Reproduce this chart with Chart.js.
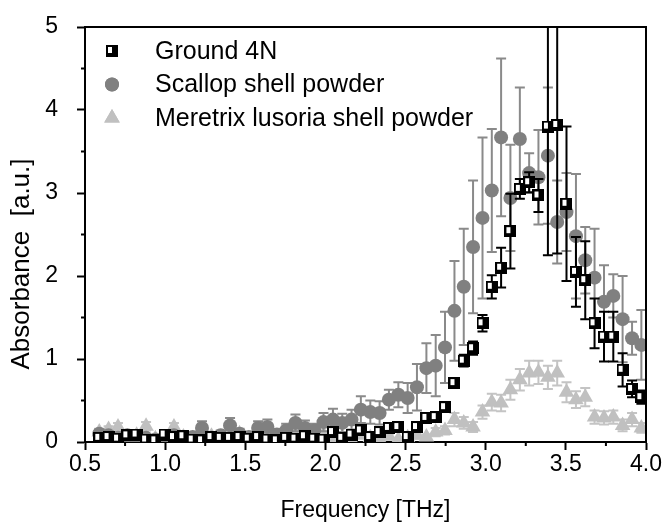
<!DOCTYPE html>
<html>
<head>
<meta charset="utf-8">
<script src="https://cdn.jsdelivr.net/npm/chart.js@4.4.1/dist/chart.umd.min.js"></script>
<style>
html, body { margin: 0; padding: 0; background: #fff; }
#wrap { width: 666px; height: 524px; }
</style>
</head>
<body>
<div id="wrap"><canvas id="theGraph" width="666" height="524"></canvas></div>
<script>
// frequency [THz]
var freq = [0.589, 0.647, 0.706, 0.764, 0.822, 0.881, 0.939, 0.997, 1.055, 1.114,
            1.172, 1.230, 1.289, 1.347, 1.405, 1.464, 1.522, 1.580, 1.638, 1.697,
            1.755, 1.813, 1.872, 1.930, 1.988, 2.047, 2.105, 2.163, 2.221, 2.280,
            2.338, 2.396, 2.455, 2.513, 2.571, 2.630, 2.688, 2.746, 2.805, 2.863,
            2.921, 2.980, 3.038, 3.096, 3.154, 3.213, 3.271, 3.329, 3.388, 3.446,
            3.504, 3.563, 3.621, 3.679, 3.738, 3.796, 3.854, 3.913, 3.971];

var ground4N = [0.05, 0.06, 0.04, 0.08, 0.09, 0.03, 0.02, 0.09, 0.06, 0.07,
                0.03, 0.02, 0.06, 0.05, 0.05, 0.06, 0.04, 0.06, 0.03, 0.02,
                0.05, 0.04, 0.07, 0.04, 0.03, 0.12, 0.05, 0.09, 0.14, 0.06,
                0.12, 0.17, 0.18, 0.06, 0.18, 0.29, 0.30, 0.42, 0.71, 0.98,
                1.13, 1.43, 1.87, 2.10, 2.54, 3.05, 3.13, 2.97, 3.80, 3.82,
                2.87, 2.05, 1.95, 1.43, 1.27, 1.27, 0.87, 0.64, 0.54];
var ground4NErr = [0.03, 0.03, 0.03, 0.04, 0.03, 0.03, 0.02, 0.04, 0.03, 0.03,
                   0.02, 0.02, 0.03, 0.03, 0.03, 0.03, 0.02, 0.03, 0.02, 0.02,
                   0.03, 0.03, 0.03, 0.03, 0.02, 0.05, 0.03, 0.04, 0.05, 0.03,
                   0.04, 0.05, 0.04, 0.04, 0.05, 0.05, 0.06, 0.05, 0.06, 0.07,
                   0.08, 0.10, 0.14, 0.24, 0.45, 0.12, 0.12, 0.20, 1.55, 1.55,
                   0.93, 0.42, 0.47, 0.30, 0.30, 0.30, 0.20, 0.10, 0.08];

var scallop = [0.10, 0.08, 0.05, 0.08, 0.04, 0.05, 0.03, 0.06, 0.08, 0.04,
               0.06, 0.17, 0.05, 0.08, 0.20, 0.10, 0.06, 0.17, 0.18, 0.09,
               0.14, 0.23, 0.17, 0.14, 0.24, 0.27, 0.23, 0.27, 0.39, 0.36,
               0.35, 0.51, 0.57, 0.53, 0.66, 0.89, 0.92, 1.14, 1.58, 1.87,
               2.35, 2.70, 3.03, 3.67, 2.94, 3.65, 3.24, 3.19, 3.45, 2.65,
               2.77, 2.48, 2.19, 1.98, 1.69, 1.76, 1.48, 1.25, 1.17];
var scallopErr = [0.05, 0.05, 0.04, 0.05, 0.04, 0.04, 0.03, 0.05, 0.05, 0.04,
                  0.05, 0.08, 0.04, 0.06, 0.09, 0.06, 0.05, 0.08, 0.09, 0.06,
                  0.08, 0.10, 0.09, 0.08, 0.11, 0.13, 0.11, 0.12, 0.16, 0.14,
                  0.14, 0.12, 0.15, 0.18, 0.28, 0.30, 0.37, 0.43, 0.60, 0.70,
                  0.80, 0.97, 0.74, 0.95, 0.64, 0.62, 0.24, 0.57, 0.82, 0.50,
                  0.47, 0.75, 0.40, 0.59, 0.44, 0.26, 0.52, 0.20, 0.42];

var meretrix = [0.12, 0.15, 0.18, 0.06, 0.08, 0.19, 0.04, 0.05, 0.18, 0.06,
                0.04, 0.15, 0.07, 0.03, 0.05, 0.10, 0.04, 0.02, 0.09, 0.05,
                0.03, 0.11, 0.05, 0.04, 0.09, 0.03, 0.06, 0.02, 0.08, 0.05,
                0.03, 0.07, 0.03, 0.05, 0.08, 0.06, 0.12, 0.14, 0.27, 0.23,
                0.18, 0.36, 0.48, 0.47, 0.63, 0.75, 0.83, 0.84, 0.78, 0.83,
                0.60, 0.51, 0.54, 0.30, 0.29, 0.30, 0.20, 0.27, 0.17];
var meretrixErr = [0.04, 0.04, 0.05, 0.03, 0.03, 0.05, 0.02, 0.03, 0.05, 0.03,
                   0.02, 0.04, 0.03, 0.02, 0.03, 0.04, 0.02, 0.02, 0.03, 0.03,
                   0.02, 0.04, 0.03, 0.02, 0.03, 0.02, 0.03, 0.02, 0.03, 0.03,
                   0.02, 0.03, 0.02, 0.03, 0.04, 0.03, 0.05, 0.05, 0.08, 0.07,
                   0.06, 0.08, 0.10, 0.10, 0.12, 0.13, 0.15, 0.14, 0.14, 0.15,
                   0.12, 0.10, 0.11, 0.08, 0.08, 0.08, 0.07, 0.08, 0.06];

var seriesNames = ["Ground 4N", "Scallop shell powder", "Meretrix lusoria shell powder"];
var yTitle = "Absorbance  [a.u.]";
var xTitle = "Frequency [THz]";
var xMinorTicks = [0.75, 1.25, 1.75, 2.25, 2.75, 3.25, 3.75];
var yMinorTicks = [0.5, 1.5, 2.5, 3.5, 4.5];

var FONT = "'Liberation Sans', Arial, sans-serif";

// square marker: black with a small white window
function makeSquare() {
    var c = document.createElement('canvas');
    c.width = 12; c.height = 12;
    var g = c.getContext('2d');
    g.fillStyle = '#000';
    g.fillRect(0, 0, 12, 12);
    g.fillStyle = '#fff';
    g.fillRect(2, 2, 4, 6);
    return c;
}
var squareImg = makeSquare();

function toPoints(ys) {
    return ys.map(function (y, i) { return { x: freq[i], y: y }; });
}

var errorBars = {
    id: 'errorBars',
    beforeDatasetDraw: function (chart, args) {
        var ds = chart.data.datasets[args.index];
        if (!ds.err) return;
        var ctx = chart.ctx, area = chart.chartArea;
        var xs = chart.scales.x, ys = chart.scales.y;
        ctx.save();
        ctx.beginPath();
        ctx.rect(area.left, area.top, area.right - area.left, area.bottom - area.top);
        ctx.clip();
        ctx.strokeStyle = ds.errColor;
        ctx.lineWidth = 2;
        ds.data.forEach(function (p, i) {
            var px = xs.getPixelForValue(p.x);
            var top = ys.getPixelForValue(p.y + ds.err[i]);
            var bot = ys.getPixelForValue(p.y - ds.err[i]);
            ctx.beginPath();
            ctx.moveTo(px, top); ctx.lineTo(px, bot);
            ctx.moveTo(px - 5, top); ctx.lineTo(px + 5, top);
            ctx.moveTo(px - 5, bot); ctx.lineTo(px + 5, bot);
            ctx.stroke();
        });
        ctx.restore();
    }
};

var frameAndLegend = {
    id: 'frameAndLegend',
    afterDraw: function (chart) {
        var ctx = chart.ctx, area = chart.chartArea;
        var xs = chart.scales.x, ys = chart.scales.y;
        ctx.save();
        ctx.strokeStyle = '#000';
        ctx.lineWidth = 2;
        ctx.beginPath();
        ctx.moveTo(area.left, area.top); ctx.lineTo(area.right, area.top);
        ctx.lineTo(area.right, area.bottom);
        xMinorTicks.forEach(function (v) {
            var px = xs.getPixelForValue(v);
            ctx.moveTo(px, area.bottom); ctx.lineTo(px, area.bottom + 4);
        });
        yMinorTicks.forEach(function (v) {
            var py = ys.getPixelForValue(v);
            ctx.moveTo(area.left, py); ctx.lineTo(area.left - 4, py);
        });
        ctx.stroke();

        // y axis title, sits a little below the middle of the axis
        ctx.save();
        ctx.translate(22, 264);
        ctx.rotate(-Math.PI / 2);
        ctx.font = '26px ' + FONT;
        ctx.fillStyle = '#000';
        ctx.textAlign = 'center';
        ctx.textBaseline = 'middle';
        ctx.fillText(yTitle, 0, 0);
        ctx.restore();

        // legend
        ctx.font = '25px ' + FONT;
        ctx.textBaseline = 'middle';
        chart.data.datasets.forEach(function (ds, k) {
            var y = area.top + 24 + k * 33.5;
            ctx.fillStyle = ds.backgroundColor;
            Chart.helpers.drawPoint(ctx, {
                pointStyle: ds.pointStyle, radius: ds.pointRadius,
                rotation: 0, borderWidth: 0
            }, area.left + 27, y);
            if (ds.pointStyle !== squareImg) ctx.fill();
            ctx.fillStyle = '#000';
            ctx.fillText(seriesNames[k], area.left + 70, y + 1);
        });
        ctx.restore();
    }
};

var ctx = document.getElementById('theGraph').getContext('2d');
var theGraph = new Chart(ctx, {
    type: 'scatter',
    data: {
        datasets: [{
            label: seriesNames[0],
            data: toPoints(ground4N),
            err: ground4NErr,
            errColor: '#000',
            pointStyle: squareImg,
            pointRadius: 6,
            backgroundColor: '#000',
            borderWidth: 0
        }, {
            label: seriesNames[1],
            data: toPoints(scallop),
            err: scallopErr,
            errColor: '#8a8a8a',
            pointStyle: 'circle',
            pointRadius: 7,
            backgroundColor: '#808080',
            borderWidth: 0
        }, {
            label: seriesNames[2],
            data: toPoints(meretrix),
            err: meretrixErr,
            errColor: '#c4c4c4',
            pointStyle: 'triangle',
            pointRadius: 9,
            backgroundColor: '#c0c0c0',
            borderWidth: 0
        }]
    },
    options: {
        responsive: false,
        animation: false,
        devicePixelRatio: 1,
        layout: { padding: { top: 27, right: 20, left: 0, bottom: 0 } },
        plugins: {
            legend: { display: false },
            tooltip: { enabled: false }
        },
        scales: {
            x: {
                type: 'linear',
                min: 0.5,
                max: 4.0,
                afterFit: function (s) { s.height = 82; },
                ticks: {
                    stepSize: 0.5,
                    color: '#000',
                    font: { family: FONT, size: 23 },
                    padding: 1,
                    maxRotation: 0,
                    callback: function (v) { return v.toFixed(1); }
                },
                grid: {
                    drawOnChartArea: false,
                    drawTicks: true,
                    tickLength: 8,
                    tickWidth: 2,
                    tickColor: '#000'
                },
                border: { display: true, color: '#000', width: 2 },
                title: {
                    display: true,
                    text: xTitle,
                    color: '#000',
                    font: { family: FONT, size: 23 },
                    padding: { top: 0, bottom: 0 }
                }
            },
            y: {
                type: 'linear',
                min: 0,
                max: 5,
                afterFit: function (s) {
                    s.width = 85;
                    s.paddingTop = 0;
                    s.paddingBottom = 0;
                },
                ticks: {
                    stepSize: 1,
                    color: '#000',
                    font: { family: FONT, size: 23 },
                    padding: 19
                },
                grid: {
                    drawOnChartArea: false,
                    drawTicks: true,
                    tickLength: 8,
                    tickWidth: 2,
                    tickColor: '#000'
                },
                border: { display: true, color: '#000', width: 2 },
                title: { display: false }
            }
        }
    },
    plugins: [errorBars, frameAndLegend]
});
</script>
</body>
</html>
